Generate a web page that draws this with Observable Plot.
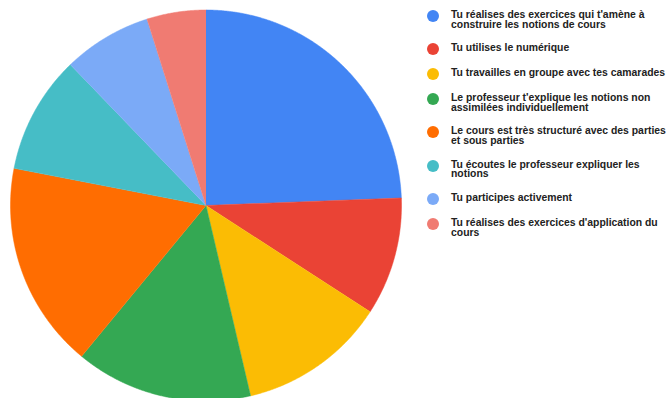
<!DOCTYPE html>
<html>
<head>
<meta charset="utf-8">
<script src="https://cdn.jsdelivr.net/npm/d3@7"></script>
<script src="https://cdn.jsdelivr.net/npm/@observablehq/plot@0.6"></script>
<style>
  html, body { margin: 0; padding: 0; background: #fff; overflow: hidden; }
  #wrap { position: relative; width: 670px; height: 398px; }
  #legend { position: absolute; left: 0; top: 0; width: 670px; height: 398px;
    font-family: "Liberation Sans", Arial, sans-serif; font-weight: bold; font-size: 10.4px;
    line-height: 9.7px; color: #222; }
  .item { position: absolute; left: 427px; width: 243px; }
  .dot { position: absolute; left: 0; width: 12px; height: 12px; border-radius: 50%; }
  .txt { position: absolute; left: 24px; white-space: nowrap; }
</style>
</head>
<body>
<div id="wrap"><div id="chart"></div><div id="legend"></div></div>
<script>
const labels = [
  "Tu réalises des exercices qui t'amène à construire les notions de cours",
  "Tu utilises le numérique",
  "Tu travailles en groupe avec tes camarades",
  "Le professeur t'explique les notions non assimilées individuellement",
  "Le cours est très structuré avec des parties et sous parties",
  "Tu écoutes le professeur expliquer les notions",
  "Tu participes activement",
  "Tu réalises des exercices d'application du cours"
];
const legendLines = [
  ["Tu réalises des exercices qui t'amène à", "construire les notions de cours"],
  ["Tu utilises le numérique"],
  ["Tu travailles en groupe avec tes camarades"],
  ["Le professeur t'explique les notions non", "assimilées individuellement"],
  ["Le cours est très structuré avec des parties", "et sous parties"],
  ["Tu écoutes le professeur expliquer les", "notions"],
  ["Tu participes activement"],
  ["Tu réalises des exercices d'application du", "cours"]
];
const values = [10, 4, 5, 6, 7, 4, 3, 2];
const colors = ["#4285F4", "#EA4335", "#FBBC04", "#34A853", "#FF6D01", "#46BDC6", "#7BAAF7", "#F07B72"];

const arcs = d3.pie().sort(null)(values);
const pts = [];
arcs.forEach((a, i) => {
  const label = labels[i];
  pts.push({label, x: 0, y: 0});
  const n = Math.max(2, Math.ceil((a.endAngle - a.startAngle) / 0.005));
  for (let k = 0; k <= n; k++) {
    const t = a.startAngle + (a.endAngle - a.startAngle) * k / n;
    pts.push({label, x: Math.sin(t), y: Math.cos(t)});
  }
});

const chart = Plot.plot({
  width: 670,
  height: 398,
  x: {domain: [-1, 1], range: [10, 401], axis: null},
  y: {domain: [-1, 1], range: [400.5, 9.5], axis: null},
  color: {domain: labels, range: colors},
  marks: [
    Plot.line(pts, {x: "x", y: "y", z: "label", fill: "label", stroke: "label", strokeWidth: 0.5, curve: "linear"})
  ]
});
document.getElementById("chart").appendChild(chart);

const legend = document.getElementById("legend");
let itemTop = 9.85;
legendLines.forEach((lines, i) => {
  const item = document.createElement("div");
  item.className = "item";
  item.style.top = itemTop + "px";
  const dot = document.createElement("div");
  dot.className = "dot";
  dot.style.top = "-0.05px";
  dot.style.background = colors[i];
  const txt = document.createElement("div");
  txt.className = "txt";
  txt.innerHTML = lines.join("<br>");
  item.appendChild(dot);
  item.appendChild(txt);
  legend.appendChild(item);
  itemTop += lines.length === 1 ? 25 : 33.3;
});
</script>
</body>
</html>
